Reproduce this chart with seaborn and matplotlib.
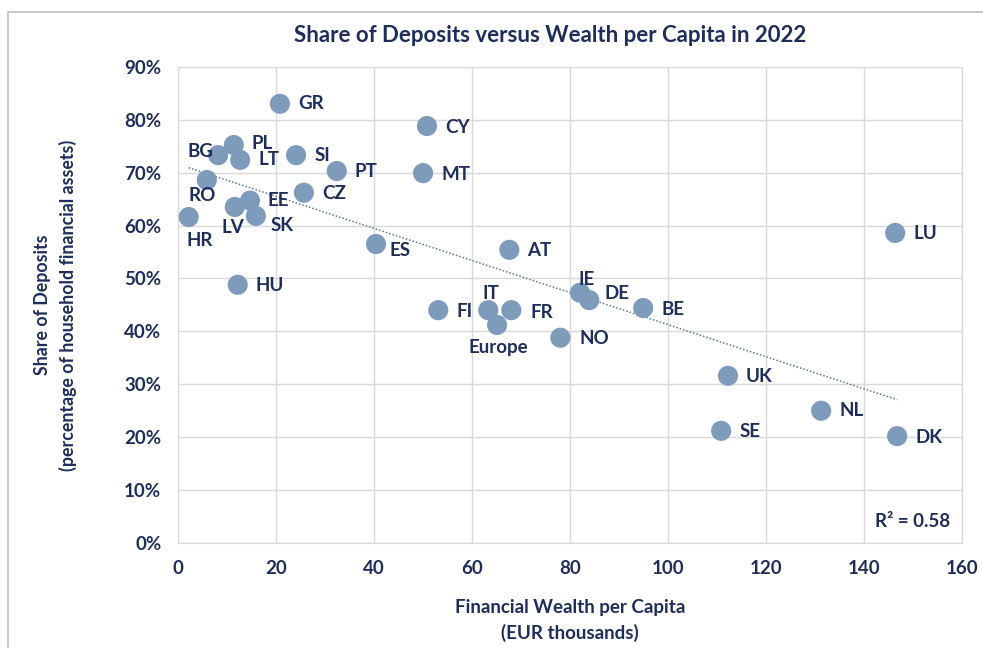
import numpy as np
import pandas as pd
import matplotlib.pyplot as plt
import seaborn as sns
from matplotlib.patches import Rectangle

countries = ["GR", "CY", "PL", "BG", "LT", "SI", "PT", "MT", "RO", "CZ",
             "EE", "LV", "SK", "HR", "LU", "ES", "AT", "HU", "IE", "DE",
             "BE", "FI", "IT", "FR", "Europe", "NO", "UK", "NL", "SE", "DK"]
wealth = [20.8, 50.8, 11.4, 8.2, 12.7, 24.1, 32.4, 50.0, 5.9, 25.7,
          14.7, 11.6, 15.9, 2.2, 146.3, 40.4, 67.6, 12.2, 82.0, 83.9,
          94.9, 53.1, 63.3, 68.0, 65.1, 78.0, 112.2, 131.2, 110.8, 146.7]
deposits = [83.0, 78.8, 75.2, 73.3, 72.4, 73.3, 70.3, 69.9, 68.6, 66.2,
            64.7, 63.5, 61.8, 61.6, 58.6, 56.5, 55.4, 48.8, 47.3, 45.9,
            44.4, 44.0, 44.0, 44.0, 41.2, 38.8, 31.6, 25.0, 21.2, 20.2]

# label offsets in pixels (dx, dy, ha)
offsets = {
    "GR": (18, 0, "left"), "CY": (18, -1, "left"), "PL": (18, 2, "left"),
    "BG": (-18, 4, "center"), "LT": (18, 0, "left"), "SI": (18, 0, "left"),
    "PT": (18, -1, "left"), "MT": (18, -1, "left"), "RO": (-5, -16, "center"),
    "CZ": (18, -1, "left"), "EE": (18, 0, "left"), "LV": (-2, -21, "center"),
    "SK": (15, -10, "left"), "HR": (11, -23, "center"), "LU": (18, -1, "left"),
    "ES": (14, -6, "left"), "AT": (18, -1, "left"), "HU": (18, -1, "left"),
    "IE": (7, 13, "center"), "DE": (15, 7, "left"), "BE": (18, -1, "left"),
    "FI": (18, -1, "left"), "IT": (3, 17, "center"), "FR": (19, -2, "left"),
    "Europe": (1, -23, "center"), "NO": (19, -1, "left"), "UK": (18, -1, "left"),
    "NL": (18, 0, "left"), "SE": (18, -1, "left"), "DK": (18, -1, "left"),
}

navy = "#1F2D5A"
marker = "#7F9BBB"

df = pd.DataFrame({"country": countries, "wealth": wealth, "deposits": deposits})

sns.set_style("white")
plt.rcParams["font.family"] = ["Lato", "DejaVu Sans"]
plt.rcParams["font.weight"] = "bold"

fig = plt.figure(figsize=(9.83, 6.48), dpi=100)
ax = fig.add_axes([0.181, 0.162, 0.798, 0.735])

fig.patches.append(Rectangle((0.008, -0.01), 1.1, 0.992, transform=fig.transFigure,
                             fill=False, edgecolor="#BFBFBF", linewidth=1.2))

sns.regplot(data=df, x="wealth", y="deposits", scatter=False, ci=None, ax=ax,
            line_kws={"color": "#5B7A8E", "linestyle": (0, (1, 1.3)), "linewidth": 1.1})
sns.scatterplot(data=df, x="wealth", y="deposits", ax=ax, s=210, color=marker,
                edgecolor="none", zorder=3)

for c, x, y in zip(countries, wealth, deposits):
    dx, dy, ha = offsets[c]
    ax.annotate(c, (x, y), xytext=(dx, dy), textcoords="offset pixels",
                ha=ha, va="center", fontsize=13.5, fontweight="bold", color=navy)

ax.set_xlim(0, 160)
ax.set_ylim(0, 90)
ax.set_xticks(range(0, 161, 20))
ax.set_yticks(range(0, 91, 10))
ax.set_yticklabels([f"{v}%" for v in range(0, 91, 10)])
ax.grid(True, color="#D9D9D9", linewidth=1)
ax.set_axisbelow(True)
for sp in ax.spines.values():
    sp.set_color("#D9D9D9")
ax.tick_params(length=0, labelsize=13.5, labelcolor=navy, pad=12)
for t in ax.get_xticklabels() + ax.get_yticklabels():
    t.set_fontweight("bold")

ax.set_xlabel("Financial Wealth per Capita\n(EUR thousands)", fontsize=13.5,
              fontweight="bold", color=navy, labelpad=16, linespacing=1.5)
ax.set_ylabel("Share of Deposits\n(percentage of household financial assets)",
              fontsize=12.8, fontweight="bold", color=navy, labelpad=34, linespacing=1.5)
ax.set_title("Share of Deposits versus Wealth per Capita in 2022", fontsize=16,
             fontweight="bold", color=navy, pad=18, x=0.474)

ax.text(0.985, 0.045, "R² = 0.58", transform=ax.transAxes, ha="right", va="center",
        fontsize=13.5, fontweight="bold", color=navy)

fig.savefig("out.png", dpi=100)
